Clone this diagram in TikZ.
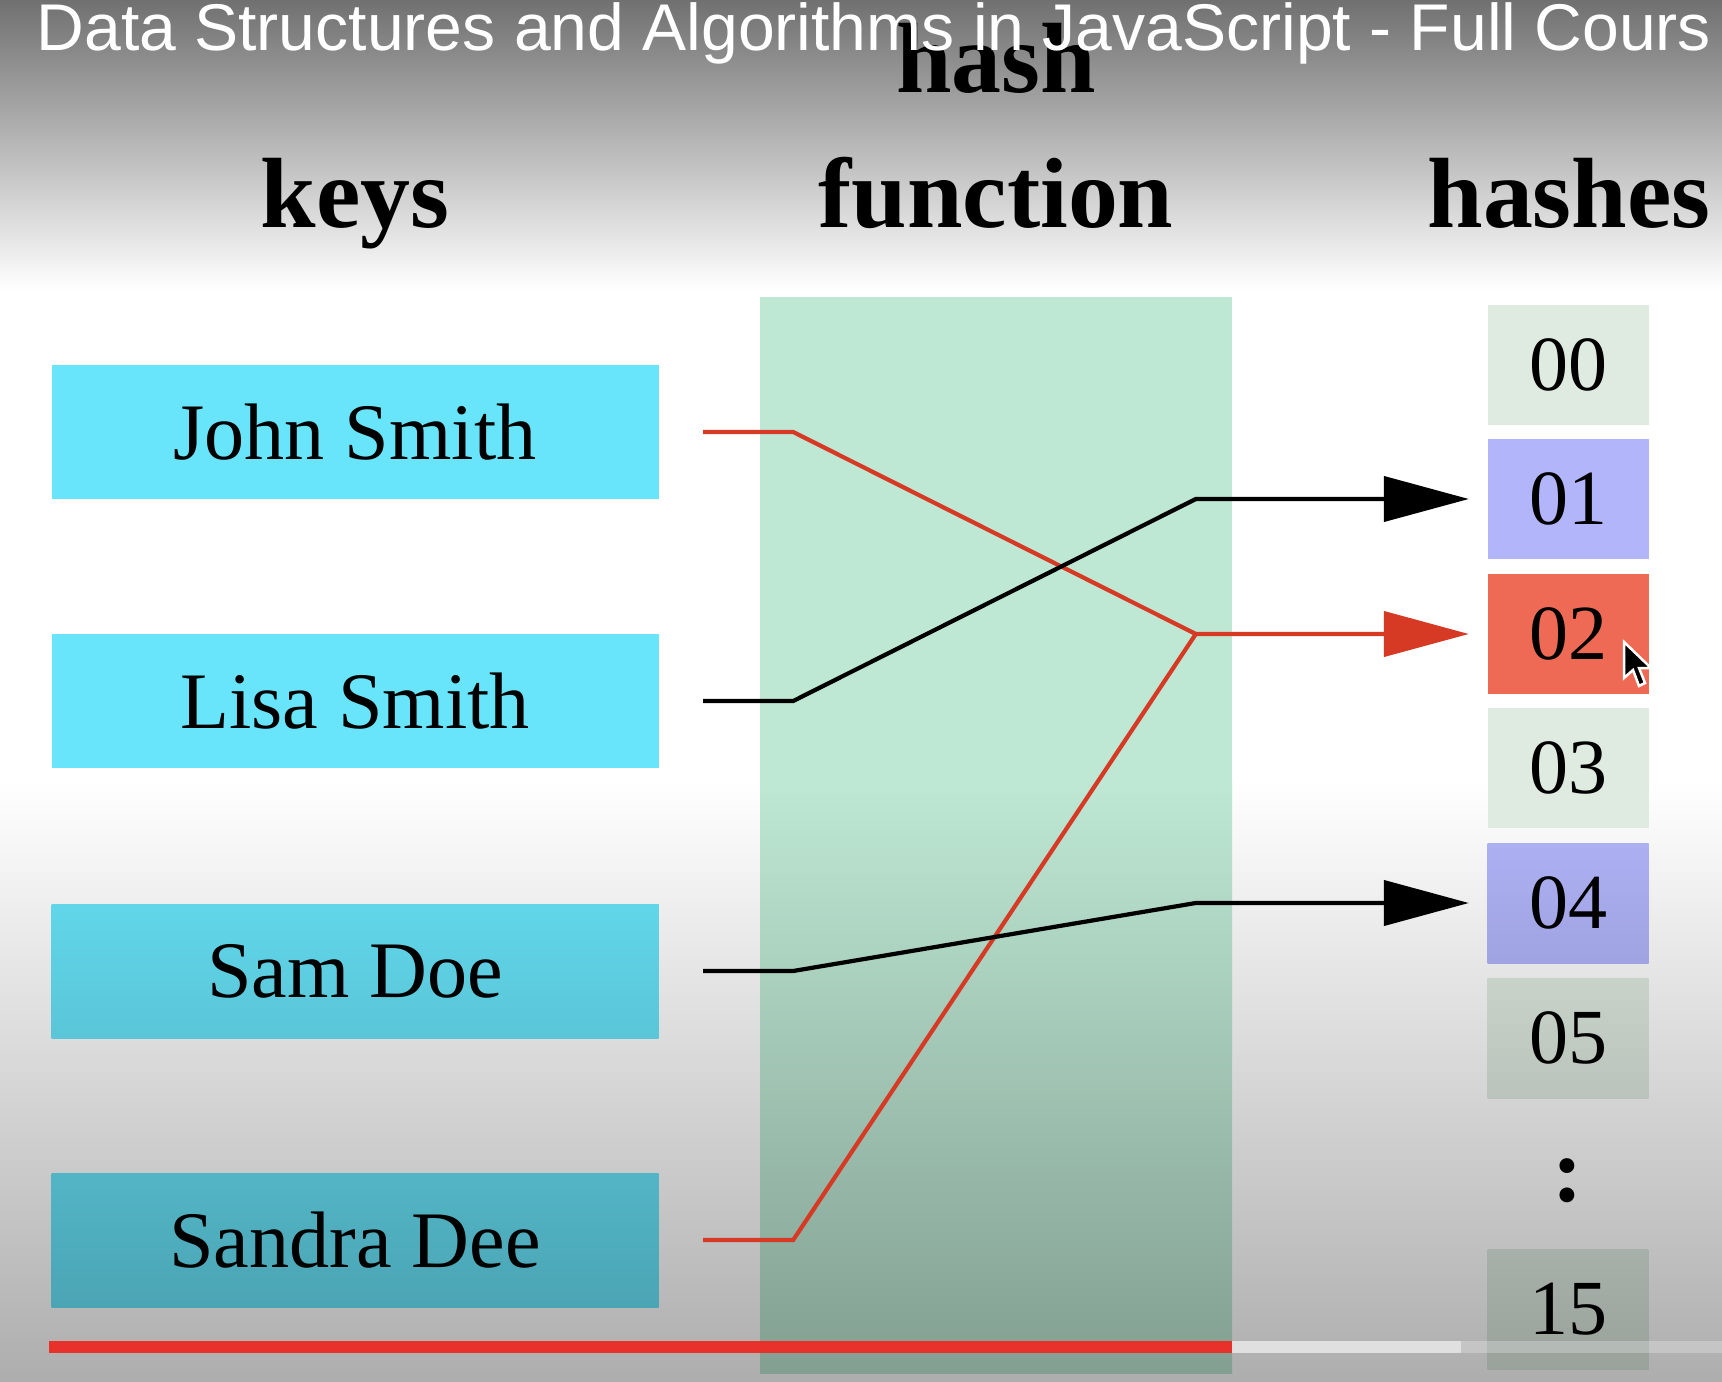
\documentclass[tikz,border=0pt]{standalone}
\usepackage{fontspec}
\setmainfont{Liberation Serif}
\newfontfamily\titlefont{Liberation Sans}
\usetikzlibrary{arrows.meta}

\definecolor{keycyan}{HTML}{68E5FA}
\definecolor{funcgreen}{HTML}{BEE8D4}
\definecolor{slotgrey}{HTML}{DFEBE1}
\definecolor{slotblue}{HTML}{B2B5FA}
\definecolor{slotred}{HTML}{EE6A55}
\definecolor{linkred}{HTML}{D63A24}
\definecolor{barred}{HTML}{E8312A}

\tikzset{
	keybox/.style={fill=keycyan, minimum width=60.7mm, minimum height=13.4mm, inner sep=0pt, font=\fontsize{22.8pt}{27pt}\selectfont},
	slot/.style={fill=slotgrey, minimum width=16.1mm, minimum height=12mm, inner sep=0pt, font=\fontsize{22.2pt}{26pt}\selectfont},
	heading/.style={anchor=base, inner sep=0pt, font=\fontsize{28.4pt}{34pt}\selectfont\bfseries},
	blackline/.style={line width=0.42mm, black},
	redline/.style={line width=0.42mm, linkred},
	headtip/.style={-{Triangle[length=8.5mm, width=4.5mm]}},
}

\begin{document}
\begin{tikzpicture}[x=0.1mm, y=-0.1mm]
			%%%%% FRAME %%%%%
			\useasboundingbox (0,0) rectangle (1722,1382);
			\clip (0,0) rectangle (1722,1382);
			\fill[white] (0,0) rectangle (1722,1382);
			\shade[top color=white!44!black, bottom color=white] (0,0) rectangle (1722,290);
			\shade[top color=white, bottom color=white!68!black] (0,780) rectangle (1722,1382);
			
			%%%%% HEADINGS %%%%%
			\node[heading] (hashlbl) at (996,93) {hash};
			\node[heading] (funclbl) at (996,228) {function};
			\node[heading] (keyslbl) at (355,228) {keys};
			\node[heading] (hasheslbl) at (1569,228) {hashes};
			
			\fill[funcgreen] (760,297) rectangle (1232,781);
			\shade[top color=funcgreen, bottom color=funcgreen!68.5!black] (760,780) rectangle (1232,1373);
			
			%%%%% KEYS %%%%%
			\node[keybox] (john) at (355,432) {John Smith};
			\node[keybox] (lisa) at (355,701) {Lisa Smith};
			\node[keybox, top color=keycyan!93.4!black, bottom color=keycyan!86.3!black] (sam) at (355,971) {Sam Doe};
			\node[keybox, top color=keycyan!79.1!black, bottom color=keycyan!72!black] (sandra) at (355,1240) {Sandra Dee};
			
			%%%%% HASHES %%%%%
			\node[slot] (h00) at (1568,365) {00};
			\node[slot, fill=slotblue] (h01) at (1568,499) {01};
			\node[slot, fill=slotred] (h02) at (1568,634) {02};
			\node[slot] (h03) at (1568,768) {03};
			\node[slot, top color=slotblue!96.7!black, bottom color=slotblue!90.2!black] (h04) at (1568,903) {04};
			\node[slot, top color=slotgrey!89.5!black, bottom color=slotgrey!83.1!black] (h05) at (1568,1038) {05};
			\node[font=\fontsize{26pt}{30pt}\selectfont\bfseries, inner sep=0pt] (hdots) at (1568,1181) {:};
			\node[slot, top color=slotgrey!75.1!black, bottom color=slotgrey!68.7!black] (h15) at (1568,1309) {15};
			
			%%%%% LINKS %%%%%
			\draw[redline, headtip] ([xshift=4.4mm]john.east) -- ([xshift=13.4mm]john.east) -- ([xshift=-29.1mm]h02.west) -- ([xshift=-1.8mm]h02.west);
			\draw[redline] ([xshift=4.4mm]sandra.east) -- ([xshift=13.4mm]sandra.east) -- ([xshift=-29.1mm]h02.west);
			\draw[blackline, headtip] ([xshift=4.4mm]lisa.east) -- ([xshift=13.4mm]lisa.east) -- ([xshift=-29.1mm]h01.west) -- ([xshift=-1.8mm]h01.west);
			\draw[blackline, headtip] ([xshift=4.4mm]sam.east) -- ([xshift=13.4mm]sam.east) -- ([xshift=-29.1mm]h04.west) -- ([xshift=-1.8mm]h04.west);
			
			%%%%% PLAYER %%%%%
			\node[anchor=base west, inner sep=0pt, text=white, font=\titlefont\fontsize{18.8pt}{22pt}\selectfont] (title) at (36,51) {Data Structures and Algorithms in JavaScript - Full Cours};
			
			\fill[barred] (49,1341) rectangle (1232,1353);
			\fill[white, fill opacity=0.6] (1232,1341) rectangle (1461,1353);
			\fill[white, fill opacity=0.25] (1461,1341) rectangle (1722,1353);
			
			\fill[black, draw=white, line width=0.25mm] (1624,642) -- ++(0,36) -- ++(9,-8) -- ++(6,16) -- ++(6,-3) -- ++(-6,-15) -- ++(12,0) -- cycle;
			
			%%%%% END %%%%%
\end{tikzpicture}
\end{document}
